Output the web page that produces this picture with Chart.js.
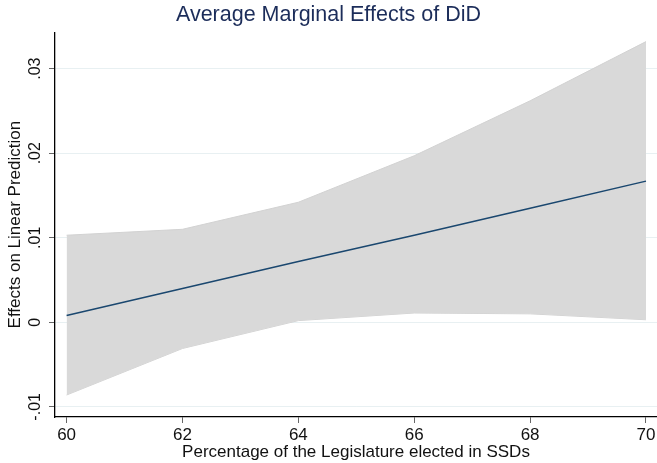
<!DOCTYPE html>
<html lang="en">
<head>
  <meta charset="UTF-8" />
  <title>Average Marginal Effects of DiD</title>
  <script src="https://cdn.jsdelivr.net/npm/chart.js"></script>
  <style>
    html, body { margin: 0; padding: 0; background: #fff; }
    #wrap { width: 657px; height: 463px; }
  </style>
</head>
<body>
<div id="wrap"><canvas id="me"></canvas></div>
<script>
  // values
  const shareSSD = [60, 62, 64, 66, 68, 70];
  const effect   = [0.0008, 0.0040, 0.0072, 0.0103, 0.0135, 0.0167];
  const ciUpper  = [0.0103, 0.0110, 0.0142, 0.0197, 0.0262, 0.0332];
  const ciLower  = [-0.0086, -0.0031, 0.0002, 0.0011, 0.0010, 0.0003];

  const xTicks = [60, 62, 64, 66, 68, 70];
  const yTicks = [-0.01, 0, 0.01, 0.02, 0.03];
  const yTickLabels = ['-.01', '0', '.01', '.02', '.03'];

  const pts = ys => shareSSD.map((x, i) => ({ x: x, y: ys[i] }));
  const font = 'Arial, "Liberation Sans", sans-serif';

  new Chart(document.getElementById('me'), {
    type: 'line',
    data: {
      datasets: [
        {
          data: pts(effect),
          borderColor: '#1a476f',
          borderWidth: 1.5,
          pointRadius: 0,
          fill: false
        },
        {
          data: pts(ciUpper),
          borderColor: '#d2d2d2',
          borderWidth: 1,
          backgroundColor: '#d9d9d9',
          pointRadius: 0,
          fill: '+1'
        },
        {
          data: pts(ciLower),
          borderColor: '#d2d2d2',
          borderWidth: 1,
          pointRadius: 0,
          fill: false
        }
      ]
    },
    options: {
      responsive: true,
      maintainAspectRatio: false,
      animation: false,
      layout: { padding: 0 },
      plugins: {
        legend: { display: false },
        tooltip: { enabled: false },
        title: {
          display: true,
          text: 'Average Marginal Effects of DiD',
          color: '#1c2d5a',
          font: { family: font, size: 21.5, weight: 'normal' },
          padding: { top: 2.2, bottom: 4.3 }
        }
      },
      scales: {
        x: {
          type: 'linear',
          min: 59.8,
          max: 70.19,
          afterBuildTicks: s => { s.ticks = xTicks.map(v => ({ value: v })); },
          afterFit: s => { s.height = 46; s.paddingLeft = 0; s.paddingRight = 0; },
          border: { color: '#000', width: 1.3 },
          grid: { drawOnChartArea: false, tickColor: '#666', tickLength: 6 },
          ticks: {
            color: '#111',
            font: { family: font, size: 17 },
            padding: 2,
            maxRotation: 0
          },
          title: {
            display: true,
            text: 'Percentage of the Legislature elected in SSDs',
            color: '#111',
            font: { family: font, size: 17 },
            padding: { top: 0, bottom: 0 }
          }
        },
        y: {
          min: -0.0112,
          max: 0.0343,
          afterBuildTicks: s => { s.ticks = yTicks.map(v => ({ value: v })); },
          afterFit: s => { s.width = 55; },
          border: { color: '#000', width: 1.3 },
          grid: { color: '#e8f0f2', tickColor: '#666', tickLength: 6 },
          ticks: {
            color: '#111',
            font: { family: font, size: 16 },
            minRotation: 90,
            maxRotation: 90,
            crossAlign: 'center',
            padding: 0,
            callback: v => {
              const i = yTicks.findIndex(t => Math.abs(t - v) < 1e-9);
              return i >= 0 ? yTickLabels[i] : '';
            }
          },
          title: {
            display: true,
            text: 'Effects on Linear Prediction',
            color: '#111',
            font: { family: font, size: 17 },
            padding: { top: 5, bottom: 0 }
          }
        }
      }
    }
  });
</script>
</body>
</html>
